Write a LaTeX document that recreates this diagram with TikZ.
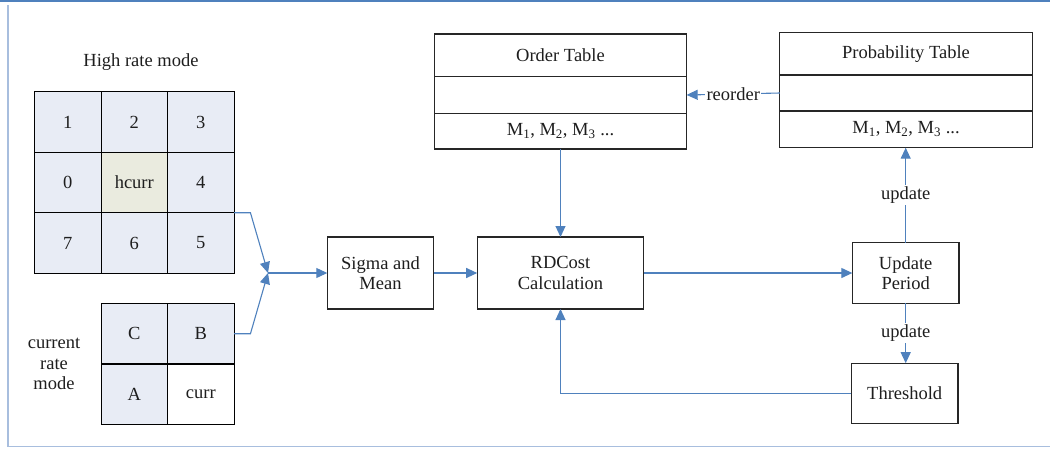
\documentclass[tikz,border=0pt]{standalone}
\usepackage{fontspec}
\setmainfont{Liberation Serif}
\usetikzlibrary{arrows.meta}
\definecolor{linkblue}{RGB}{79,129,189}
\definecolor{framelight}{RGB}{168,190,222}
\definecolor{cellblue}{RGB}{232,236,245}
\definecolor{cellgreen}{RGB}{234,235,223}
\definecolor{inkgray}{RGB}{30,30,30}
\begin{document}
\begin{tikzpicture}[x=1pt,y=-1pt,
  every node/.style={font=\fontsize{18.5}{20.5}\selectfont, text=inkgray, inner sep=0pt, outer sep=0pt},
  cellbox/.style={draw=black, line width=1.1pt, fill=cellblue, minimum width=66.5pt, minimum height=60.5pt},
  procbox/.style={draw=black!85, line width=1.2pt, fill=white, align=center},
  tabrow/.style={draw=black!85, line width=1.1pt, minimum width=252.3pt},
  link/.style={draw=linkblue, line width=1.1pt, -{Triangle[length=11pt,width=10pt]}},
  lbl/.style={fill=white, inner sep=1.5pt}
]
\useasboundingbox (0,0) rectangle (1050,448);
% frame
\draw[linkblue, line width=1.2pt] (0,1) -- (1050,1);
\draw[framelight, line width=1.5pt] (8,5) -- (8,446.7) -- (1050,446.7);

% high rate mode grid
\node at (141,62) {High rate mode};
\node[cellbox] (c1) at (67.8,122) {1};
\node[cellbox] (c2) at (134.3,122) {2};
\node[cellbox] (c3) at (200.8,122) {3};
\node[cellbox] (c0) at (67.8,182.5) {0};
\node[cellbox, fill=cellgreen] (hc) at (134.3,182.5) {hcurr};
\node[cellbox] (c4) at (200.8,182.5) {4};
\node[cellbox] (c7) at (67.8,243) {7};
\node[cellbox] (c6) at (134.3,243) {6};
\node[cellbox] (c5) at (200.8,243) {5};

% current rate mode grid
\node[align=center] (crm) at (54,364) {current\\rate\\mode};
\node[cellbox] (cc) at (134.3,333.7) {C};
\node[cellbox] (cb) at (200.8,333.7) {B};
\node[cellbox] (ca) at (134.3,394.2) {A};
\node[cellbox, fill=white] (cu) at (200.8,394.2) {curr};

% process boxes
\node[procbox, minimum width=106.4pt, minimum height=72pt] (sm) at (380.5,273) {Sigma and\\Mean};
\node[procbox, minimum width=166.6pt, minimum height=72pt] (rd) at (560.5,273) {RDCost\\Calculation};
\node[procbox, minimum width=106.7pt, minimum height=60.6pt] (up) at (905.7,273) {Update\\Period};
\node[procbox, minimum width=106.7pt, minimum height=60.6pt] (th) at (904.7,393.5) {Threshold};

% order table
\node[tabrow, minimum height=42.7pt] (ot1) at (560.5,55.35) {Order Table};
\node[tabrow, minimum height=36.6pt] (ot2) at (560.5,95) {};
\node[tabrow, minimum height=35.7pt] (ot3) at (560.5,131.15) {M\textsubscript{1}, M\textsubscript{2}, M\textsubscript{3} ...};

% probability table
\node[tabrow, minimum height=42.3pt] (pt1) at (906,53.85) {Probability Table};
\node[tabrow, minimum height=36pt] (pt2) at (906,93) {};
\node[tabrow, minimum height=36.7pt] (pt3) at (906,129.35) {M\textsubscript{1}, M\textsubscript{2}, M\textsubscript{3} ...};

% merge connectors
\coordinate (mg) at (268,273);
\draw[link] (c4.south east) -- ++(16.4,0) -- (mg);
\draw[link] (cb.east) -- ++(16.4,0) -- (mg);
\draw[link] (mg) -- (sm.west);

% main flow
\draw[link] (sm.east) -- (rd.west);
\draw[link] (ot3.south) -- (ot3.south |- rd.north);
\draw[link] (rd.east) -- (up.west);
\draw[link] (th.west) -| (rd.south);
\draw[link] (up.north) -- node[lbl] (u1) {update} (up.north |- pt3.south);
\draw[link] (up.south) -- node[lbl, pos=0.5] (u2) {update} (up.south |- th.north);
\draw[link] (pt2.west) -- node[lbl, pos=0.5] (ro) {reorder} (ot2.east);
\end{tikzpicture}
\end{document}
